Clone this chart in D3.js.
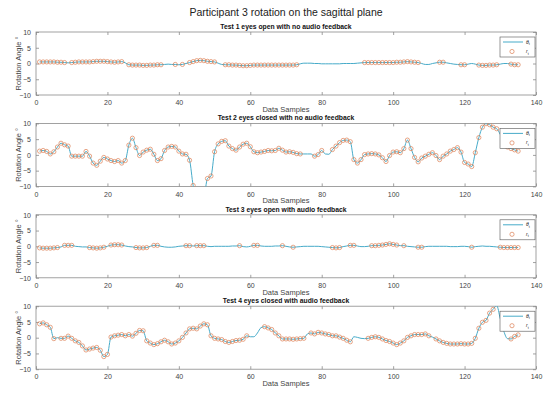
<!DOCTYPE html>
<html>
<head>
<meta charset="utf-8">
<script src="https://cdn.jsdelivr.net/npm/d3@7"></script>
<style>
  body { margin: 0; background: #fff; }
  svg { display: block; font-family: "Liberation Sans", Arial, Helvetica, sans-serif; }
</style>
</head>
<body>
<svg id="chart" width="550" height="394"></svg>
<script>
// chart data
const mainTitle = "Participant 3 rotation on the sagittal plane";
const panelTitles = [
  "Test 1 eyes open with no audio feedback",
  "Test 2 eyes closed with no audio feedback",
  "Test 3 eyes open with audio feedback",
  "Test 4 eyes closed with audio feedback"
];
const xTicks = [0, 20, 40, 60, 80, 100, 120, 140];
const yTicks = [-10, -5, 0, 5, 10];

// theta_t, one value per data sample (1..135)
const theta1 = [
  0.5, 0.5, 0.5, 0.5, 0.5, 0.4, 0.4, 0.3, 0.2,
  0.3, 0.4, 0.5, 0.5, 0.5, 0.5, 0.6, 0.7, 0.7, 0.7, 0.6, 0.5, 0.4, 0.5, 0.6, 0.2,
  -0.4, -0.5, -0.5, -0.5, -0.6, -0.6, -0.5, -0.5, -0.4, -0.4, -0.3, -0.2, -0.3,
  -0.3, -0.4, -0.3, 0, 0.3, 0.6, 0.9, 1.0, 0.9, 0.7, 0.6, 0.5, 0.1, -0.3,
  -0.4, -0.4, -0.5, -0.5, -0.6, -0.7, -0.7, -0.6, -0.5, -0.5, -0.5, -0.5, -0.5, -0.5, -0.5, -0.5, -0.5, -0.5, -0.5, -0.5, -0.4,
  -0.1, 0.1, 0.1, 0.1, 0, 0, -0.1, -0.1, -0.1, -0.1, -0.1, -0.1, 0, 0, 0, 0, 0.1, 0.2,
  0.3, 0.3, 0.3, 0.3, 0.3, 0.3, 0.3, 0.3, 0.3, 0.4, 0.4, 0.5, 0.6, 0.5, 0.4, 0.3,
  0, -0.3, -0.3, 0, 0.2, 0.4, 0.4, 0.2, 0, -0.2, -0.3, -0.4, -0.4, -0.2, 0, -0.2,
  -0.5, -0.6, -0.6, -0.5, -0.5, -0.4, -0.2, 0, 0, -0.2, -0.4, -0.4
];
const theta2 = [
  1.2, 1.4, 1.1, 0.3, 1.0, 2.5, 3.7, 3.2, 2.8, -0.4,
  -0.4, -0.4, -0.4, 1.1, -0.4, -2.6, -3.3, -2.0, -0.8, -1.3,
  -1.8, -2.1, -1.8, -2.6, -1.8, 3.1, 5.3, 2.3, -0.2, 0.9,
  1.5, 1.8, 0.2, -1.8, -1.2, 1.4, 2.5, 2.7, 2.5, 1.2,
  0.3, 0.2, -1.7, -9.7, -14, -16, -14, -7.5, -6.7, 1.0,
  3.5, 4.3, 4.5, 2.8, 2.0, 1.5, 2.5, 3.4, 3.7, 2.6,
  1.0, 0.7, 0.9, 1.1, 1.4, 1.3, 1.4, 2.1, 1.5, 0.9,
  1.0, 0.8, 0.4, 0.3, 0.3, 0.3, 0.3, -0.4, 0.1, 1.4,
  0.3, 0.2, 1.7, 2.8, 3.9, 4.6, 4.7, 4.2, -1.5, -2.6,
  -1.5, 0.1, 0.3, 0.4, 0.3, 0, -0.9, -2.1, -0.2, 0.9,
  1.0, 0.7, 2.0, 4.7, 2.0, -0.8, -2.2, -1.0, -0.4, 0.2,
  0.7, -0.2, -1.5, -0.4, 0.3, 1.2, 1.7, 2.3, 0.9, -2.4,
  -2.9, -3.7, 0.7, 5.5, 8.8, 9.9, 9.6, 8.8, 8.3, 6.5,
  4.0, 2.5, 2.0, 1.6, 1.2
];
const theta3 = [
  -0.5, -0.6, -0.6, -0.6, -0.5, -0.4, -0.2, 0.3, 0.3, 0.3,
  0, -0.1, -0.2, -0.2, -0.4, -0.5, -0.6, -0.5, -0.3, 0,
  0.4, 0.5, 0.5, 0.4, 0.1, -0.1, -0.2, -0.4, -0.5, -0.5,
  -0.4, 0, 0.3, 0.3, 0, -0.2, -0.3, -0.3, -0.2, 0,
  0.1, 0.2, 0.2, 0.1, 0.2, 0.2, 0.2, 0, -0.1, 0,
  0, 0, 0, 0, 0.1, 0.1, 0.2, -0.1, -0.2, 0,
  0.3, 0.3, 0.1, 0, 0, 0, 0.1, 0.1, 0.2, 0,
  -0.2, -0.3, -0.2, -0.1, 0, 0, 0, 0, 0, -0.1,
  -0.2, -0.3, -0.4, -0.5, -0.4, -0.1, 0.1, 0.3, 0.3, 0.1,
  -0.1, -0.1, 0, 0.2, 0.2, 0.3, 0.4, 0.6, 0.8, 0.6,
  0.4, 0.2, 0.2, 0, -0.1, -0.2, -0.3, -0.3, -0.1, 0,
  0, 0, 0, 0, 0, -0.1, -0.1, -0.1, 0, 0,
  -0.1, -0.3, -0.1, 0, 0.1, 0, 0, -0.1, -0.2, -0.3,
  -0.4, -0.4, -0.4, -0.4, -0.4
];
const theta4 = [
  4.4, 4.7, 4.1, 3.3, -0.3, 0, -0.2, -0.2, 0.5, -0.2,
  -1.0, -1.5, -2.6, -3.9, -3.6, -3.3, -3.1, -4.0, -6.0, -5.3,
  0.2, 0.6, 0.8, 1.0, 0.6, 1.0, 0.5, 1.4, 2.3, 2.2,
  -1.0, -1.7, -2.2, -1.9, -1.3, -0.8, -1.3, -2.0, -1.7, -1.0,
  0.1, 1.5, 2.8, 3.0, 2.8, 3.7, 4.4, 4.1, 0.6, -0.2,
  -0.4, -0.6, -1.2, -1.5, -1.2, -0.9, -0.8, -0.5, 0.6, 0.3,
  0.3, 1.5, 3.2, 3.5, 3.1, 2.6, 1.5, 0.6, -0.4, -0.4,
  -0.4, -0.5, -0.4, -0.3, -0.2, 1.2, 1.5, 1.2, 1.7, 1.5,
  1.2, 1.0, 0.6, 0.6, 0.2, -0.2, -0.8, -1.3, 0.3, 0.1,
  -0.2, -0.3, -0.2, 0.1, 0.3, 0.1, -0.4, -0.9, -1.2, -1.7,
  -2.2, -1.7, -1.0, 0.1, 0.6, 1.0, 1.0, 1.0, 1.2, 0.6,
  0.2, -0.4, -1.0, -1.5, -1.8, -2.0, -2.0, -2.0, -1.9, -2.0,
  -2.0, -1.8, -0.2, 3.0, 4.9, 5.5, 7.8, 9.0, 10.2, 6.0,
  2.0, -0.3, -0.4, 0.4, 0.9
];
// samples where an r_t marker is drawn, as [first, last] spans
const marks1 = [[1, 8], [10, 24], [26, 35], [39, 39], [41, 41], [43, 50], [53, 73],
  [92, 107], [113, 114], [119, 120], [124, 129], [133, 135]];
const marks2 = [[1, 44], [48, 74], [78, 80], [83, 129], [131, 135]];
const marks3 = [[1, 6], [8, 10], [15, 19], [21, 24], [28, 31], [33, 34], [42, 43], [45, 47],
  [57, 57], [61, 62], [69, 69], [72, 72], [83, 85], [88, 89], [94, 101], [103, 103],
  [107, 108], [122, 122], [130, 135]];
const marks4 = [[1, 5], [7, 59], [64, 75], [77, 88], [93, 110], [112, 128], [133, 135]];

const thetas = [theta1, theta2, theta3, theta4];
const marks = [marks1, marks2, marks3, marks4];

const lineColor = "#47abc9";
const markColor = "#dc7f55";
const axisColor = "#8a8a8a";
const textColor = "#454545";

const svg = d3.select("#chart");
const left = 36, right = 536;
const panelH = 63, gap = 91.4, top0 = 32;

svg.append("text")
  .attr("x", 286).attr("y", 15.5)
  .attr("text-anchor", "middle")
  .attr("font-size", 10.5)
  .attr("fill", "#222")
  .text(mainTitle);

const x = d3.scaleLinear().domain([0, 140]).range([left, right]);

thetas.forEach((theta, k) => {
  const top = top0 + k * gap;
  const y = d3.scaleLinear().domain([-10, 10]).range([top + panelH, top]);
  const g = svg.append("g");

  const clipId = "clip" + k;
  svg.append("clipPath").attr("id", clipId)
    .append("rect")
    .attr("x", left).attr("y", top)
    .attr("width", right - left).attr("height", panelH);

  // frame
  g.append("rect")
    .attr("x", left).attr("y", top)
    .attr("width", right - left).attr("height", panelH)
    .attr("fill", "#fff")
    .attr("stroke", axisColor).attr("stroke-width", 0.8);

  // axes with inward ticks (mirrored on top/right like MATLAB)
  const xAxis = g.append("g")
    .attr("transform", `translate(0,${top + panelH})`)
    .call(d3.axisBottom(x).tickValues(xTicks).tickSizeInner(-3).tickSizeOuter(0).tickPadding(5));
  g.append("g")
    .attr("transform", `translate(0,${top})`)
    .call(d3.axisTop(x).tickValues(xTicks).tickSizeInner(-3).tickSizeOuter(0).tickFormat(""));
  g.append("g")
    .attr("transform", `translate(${left},0)`)
    .call(d3.axisLeft(y).tickValues(yTicks).tickSizeInner(-3).tickSizeOuter(0).tickPadding(5));
  g.append("g")
    .attr("transform", `translate(${right},0)`)
    .call(d3.axisRight(y).tickValues(yTicks).tickSizeInner(-3).tickSizeOuter(0).tickFormat(""));

  g.selectAll(".domain").remove();
  g.selectAll(".tick line").attr("stroke", axisColor).attr("stroke-width", 0.8);
  g.selectAll(".tick text")
    .attr("fill", textColor)
    .attr("font-size", 7)
    .attr("font-family", "Liberation Sans, Arial, sans-serif");
  xAxis.selectAll(".tick text").attr("dy", "0.75em");

  // title
  svg.append("text")
    .attr("x", 286).attr("y", top - 3)
    .attr("text-anchor", "middle")
    .attr("font-size", 6.8)
    .attr("font-weight", "bold")
    .attr("fill", "#111")
    .text(panelTitles[k]);

  // axis labels
  svg.append("text")
    .attr("x", 286).attr("y", top + panelH + 17)
    .attr("text-anchor", "middle")
    .attr("font-size", 7.5)
    .attr("fill", textColor)
    .text("Data Samples");
  svg.append("text")
    .attr("transform", `translate(21,${top + panelH / 2}) rotate(-90)`)
    .attr("text-anchor", "middle")
    .attr("font-size", 7.5)
    .attr("fill", textColor)
    .text("Rotation Angle °");

  // theta_t line
  const pts = theta.map((v, i) => [i + 1, v]);
  const line = d3.line()
    .x(d => x(d[0]))
    .y(d => y(d[1]))
    .curve(d3.curveMonotoneX);
  g.append("path")
    .datum(pts)
    .attr("clip-path", `url(#${clipId})`)
    .attr("fill", "none")
    .attr("stroke", lineColor)
    .attr("stroke-width", 1)
    .attr("d", line);

  // r_t markers
  const mpts = [];
  marks[k].forEach(([a, b]) => {
    for (let s = a; s <= b; s++) mpts.push([s, theta[s - 1]]);
  });
  g.append("g")
    .attr("clip-path", `url(#${clipId})`)
    .selectAll("circle")
    .data(mpts)
    .enter()
    .append("circle")
    .attr("cx", d => x(d[0]))
    .attr("cy", d => y(d[1]))
    .attr("r", 2.1)
    .attr("fill", "none")
    .attr("stroke", markColor)
    .attr("stroke-width", 0.7);

  // legend
  const lg = svg.append("g").attr("transform", `translate(500,${top + 5})`);
  lg.append("rect")
    .attr("width", 35).attr("height", 20)
    .attr("fill", "#fff")
    .attr("stroke", "#555").attr("stroke-width", 0.6);
  lg.append("line")
    .attr("x1", 3).attr("x2", 23).attr("y1", 5).attr("y2", 5)
    .attr("stroke", lineColor).attr("stroke-width", 1);
  lg.append("circle")
    .attr("cx", 12).attr("cy", 14.5).attr("r", 2.1)
    .attr("fill", "none").attr("stroke", markColor).attr("stroke-width", 0.7);
  const l1 = lg.append("text").attr("x", 26).attr("y", 6.5)
    .attr("font-size", 5).attr("fill", "#222");
  l1.append("tspan").attr("font-style", "italic").text("θ");
  l1.append("tspan").attr("font-size", 3.5).attr("dy", 1.5).text("t");
  const l2 = lg.append("text").attr("x", 26).attr("y", 16)
    .attr("font-size", 5).attr("fill", "#222");
  l2.append("tspan").attr("font-style", "italic").text("r");
  l2.append("tspan").attr("font-size", 3.5).attr("dy", 1.5).text("t");
});
</script>
</body>
</html>
